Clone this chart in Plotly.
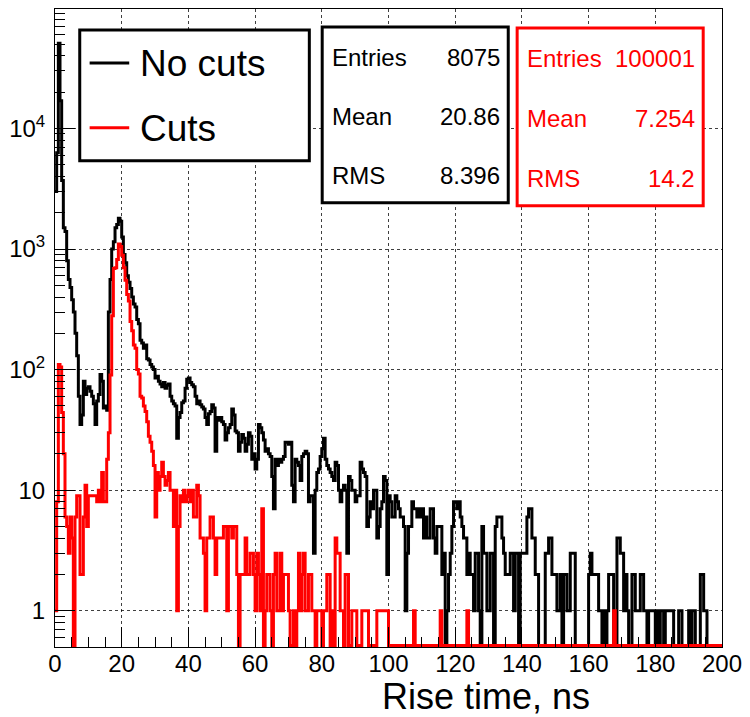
import numpy as np
import plotly.graph_objects as go

# ---------------- data (0.5 ns bins, 0-200 ns) ----------------
bin_width = 0.5
x_lo, x_hi = 0.0, 200.0

no_cuts = [
    3000, 6300, 51000, 17000, 3700, 1500, 1400, 800, 560, 480,
    380, 300, 200, 130, 60, 35, 42, 80, 62, 70,
    72, 66, 60, 52, 35, 55, 62, 91, 80, 48,
    50, 46, 300, 560, 1000, 1150, 1500, 1600, 1800, 1700,
    1260, 900, 770, 600, 530, 470, 400, 350, 330, 260,
    240, 175, 166, 150, 160, 123, 120, 110, 105, 100,
    85, 88, 80, 76, 72, 78, 70, 74, 76, 60,
    55, 52, 50, 27, 40, 44, 53, 55, 70, 83,
    85, 78, 75, 72, 60, 52, 55, 51, 49, 47,
    40, 35, 43, 45, 51, 48, 21, 40, 38, 40,
    37, 35, 26, 30, 33, 35, 47, 42, 31, 30,
    21, 25, 29, 27, 21, 24, 30, 28, 18, 20,
    15, 18, 35, 33, 30, 26, 21, 22, 20, 19,
    13, 7, 18, 16, 18, 17, 18, 19, 25, 25,
    24, 25, 11, 8, 18, 17, 16, 12, 19, 20,
    21, 20, 8, 9, 9, 3, 10, 14, 15, 19,
    22, 27, 18, 16, 15, 14, 13, 12, 17, 16,
    10, 8, 10, 11, 10, 3, 13, 12, 10, 10,
    8, 9, 9, 17, 15, 14, 13, 5, 6, 8,
    7, 10, 10, 4, 5, 7, 8, 13, 12, 2,
    9, 8, 6, 6, 9, 8, 7, 6, 6, 5,
    1, 3, 5, 5, 8, 7, 7, 6, 7, 6,
    7, 4, 6, 4, 4, 7, 7, 4, 3, 5,
    5, 5, 2, 3, 0, 1, 2, 3, 5, 8,
    8, 7, 8, 6, 5, 4, 4, 2, 3, 2,
    2, 1, 3, 3, 1, 0, 5, 3, 3, 1,
    1, 3, 3, 0, 5, 6, 6, 6, 4, 3,
    2, 2, 2, 3, 3, 1, 3, 3, 0, 3,
    3, 3, 3, 6, 7, 7, 4, 4, 2, 2,
    0, 0, 0, 0, 3, 3, 4, 4, 2, 2,
    2, 1, 1, 2, 0, 2, 2, 1, 1, 3,
    3, 3, 0, 0, 0, 0, 0, 0, 0, 0,
    2, 3, 2, 2, 2, 2, 1, 1, 0, 1,
    0, 1, 2, 2, 2, 0, 0, 4, 4, 3,
    3, 1, 2, 1, 0, 0, 2, 2, 1, 1,
    1, 2, 2, 1, 1, 0, 1, 1, 1, 1,
    0, 1, 0, 1, 1, 0, 1, 1, 1, 1,
    1, 0, 0, 0, 1, 1, 0, 0, 0, 0,
    1, 0, 1, 1, 0, 0, 0, 2, 2, 1,
    1, 0, 0, 0, 0, 0, 0, 0, 0, 0,
]

cuts = [
    1, 8, 110, 105, 44, 20, 6, 5, 3, 6,
    4, 0, 6, 9, 9, 2, 2, 6, 11, 5,
    9, 9, 9, 9, 9, 8, 10, 8, 14, 8,
    8, 18, 30, 90, 280, 690, 700, 820, 1100, 1050,
    890, 700, 550, 420, 370, 250, 210, 160, 150, 100,
    92, 60, 58, 50, 45, 37, 28, 25, 21, 16,
    6, 14, 10, 13, 17, 13, 11, 12, 14, 10,
    10, 5, 10, 1, 5, 9, 8, 10, 8, 9,
    10, 8, 10, 6, 6, 11, 9, 4, 4, 3,
    1, 4, 4, 6, 6, 4, 2, 4, 4, 4,
    4, 5, 5, 1, 5, 5, 4, 5, 5, 2,
    0, 2, 2, 2, 4, 2, 2, 3, 3, 2,
    1, 3, 2, 1, 7, 0, 1, 2, 2, 1,
    0, 2, 3, 1, 1, 3, 1, 2, 2, 2,
    1, 0, 0, 1, 0, 1, 3, 1, 2, 3,
    1, 1, 2, 2, 1, 1, 0, 1, 1, 1,
    0, 1, 1, 2, 2, 0, 1, 0, 4, 3,
    3, 1, 1, 0, 2, 2, 0, 0, 1, 1,
    1, 0, 0, 0, 1, 1, 1, 1, 0, 0,
    0, 0, 0, 1, 1, 1, 1, 1, 1, 1,
    0, 0, 0, 0, 0, 0, 0, 0, 0, 0,
    0, 0, 0, 0, 0, 1, 0, 0, 0, 0,
    0, 0, 0, 0, 0, 0, 0, 0, 0, 0,
    0, 1, 0, 0, 0, 0, 0, 0, 0, 0,
    0, 0, 0, 0, 0, 0, 0, 1, 0, 0,
    0, 0, 0, 0, 0, 0, 0, 0, 0, 0,
    0, 0, 0, 0, 0, 0, 0, 0, 0, 0,
    0, 0, 0, 0, 0, 0, 0, 0, 0, 0,
    0, 0, 0, 0, 0, 0, 0, 0, 0, 0,
    0, 0, 0, 0, 0, 0, 0, 0, 0, 0,
    0, 0, 0, 0, 0, 0, 0, 0, 0, 0,
    0, 0, 0, 0, 0, 0, 0, 0, 0, 0,
    0, 0, 0, 0, 0, 0, 0, 0, 0, 0,
    0, 0, 0, 0, 0, 1, 0, 0, 0, 0,
    0, 0, 0, 0, 0, 0, 0, 0, 0, 0,
    0, 0, 0, 0, 0, 0, 0, 0, 0, 0,
    0, 0, 0, 0, 0, 0, 0, 0, 0, 0,
    0, 0, 0, 0, 0, 0, 0, 0, 0, 0,
    0, 0, 0, 0, 0, 0, 0, 0, 0, 0,
    0, 0, 0, 0, 0, 0, 0, 0, 0, 0,
]

series_names = ["No cuts", "Cuts"]
series_colors = ["black", "#ff0000"]

x_tick_vals = list(range(0, 201, 20))
y_tick_vals = [1, 10, 100, 1000, 10000]
y_tick_text = ["1", "10", "10<sup>2</sup>", "10<sup>3</sup>", "10<sup>4</sup>"]
x_title = "Rise time, ns"

stats_labels = ["Entries", "Mean", "RMS"]
stats_box1 = ["8075", "20.86", "8.396"]      # black box
stats_box2 = ["100001", "7.254", "14.2"]     # red box

# ---------------- figure geometry ----------------
W, H = 750, 717
L, R, T, B = 55, 21, 8, 70
y_min, y_max_log = 0.5, 4.991
pw, ph = W - L - R, H - T - B


def px(xp):
    return (xp - L) / pw


def py(yp):
    return (H - B - yp) / ph


edges = np.arange(len(no_cuts)) * bin_width
floor = y_min * 1.03


def step_xy(vals):
    v = np.asarray(vals, dtype=float)
    v = np.where(v > 0, v, floor)
    xs = np.append(edges, x_hi)
    ys = np.append(v, v[-1])
    return xs, ys


fig = go.Figure()
for vals, name, col in [(no_cuts, series_names[0], series_colors[0]),
                        (cuts, series_names[1], series_colors[1])]:
    xs, ys = step_xy(vals)
    fig.add_trace(go.Scatter(x=xs, y=ys, mode="lines", line_shape="hv",
                             line=dict(color=col, width=3), name=name,
                             showlegend=False))

font_family = "Liberation Sans, Arial, Helvetica, sans-serif"

minor_y = [m * 10 ** d for d in range(-1, 5) for m in range(2, 10)]
minor_y = [v for v in minor_y if y_min <= v <= 10 ** y_max_log]

fig.update_layout(
    width=W, height=H,
    margin=dict(l=L, r=R, t=T, b=B),
    paper_bgcolor="white", plot_bgcolor="white",
    font=dict(family=font_family, color="black", size=24),
    xaxis=dict(range=[x_lo, x_hi], tickmode="array", tickvals=x_tick_vals,
               ticks="inside", ticklen=20, tickcolor="black", tickwidth=1,
               showline=True, mirror=True, linecolor="black", linewidth=1,
               showgrid=True, gridcolor="rgba(0,0,0,0.75)", griddash="dot", gridwidth=1,
               zeroline=False, tickfont=dict(size=24), ticklabelstandoff=-5,
               minor=dict(dtick=5, ticks="inside", ticklen=10, tickcolor="black",
                          showgrid=False)),
    yaxis=dict(type="log", range=[np.log10(y_min), y_max_log], tickmode="array",
               tickvals=y_tick_vals, ticktext=y_tick_text,
               ticks="inside", ticklen=20, tickcolor="black", tickwidth=1,
               showline=True, mirror=True, linecolor="black", linewidth=1,
               showgrid=True, gridcolor="rgba(0,0,0,0.75)", griddash="dot", gridwidth=1,
               zeroline=False, tickfont=dict(size=24), ticklabelstandoff=4,
               minor=dict(tickmode="array", tickvals=minor_y, ticks="inside",
                          ticklen=10, tickcolor="black", showgrid=False)),
)

shapes = []
ann = []

# Legend box
shapes.append(dict(type="rect", xref="paper", yref="paper",
                   x0=px(80), x1=px(312), y0=py(160), y1=py(29),
                   line=dict(color="black", width=3), fillcolor="white", layer="above"))
for yy, name, col in [(62, series_names[0], series_colors[0]),
                      (127, series_names[1], series_colors[1])]:
    shapes.append(dict(type="line", xref="paper", yref="paper",
                       x0=px(90), x1=px(130), y0=py(yy), y1=py(yy),
                       line=dict(color=col, width=3), layer="above"))
    ann.append(dict(xref="paper", yref="paper", x=px(139), y=py(yy + 1), text=name,
                    showarrow=False, xanchor="left", yanchor="middle",
                    font=dict(size=37, color="black")))

# Stats boxes
for (x0, x1, y0, y1, col, vals, rows) in [
        (325, 513, 26, 202, "black", stats_box1, [57, 116, 175]),
        (522, 710, 27, 205, "#ff0000", stats_box2, [58, 118, 178])]:
    shapes.append(dict(type="rect", xref="paper", yref="paper",
                       x0=px(x0), x1=px(x1), y0=py(y1), y1=py(y0),
                       line=dict(color=col, width=3), fillcolor="white", layer="above"))
    for lab, val, yy in zip(stats_labels, vals, rows):
        ann.append(dict(xref="paper", yref="paper", x=px(x0 + 8), y=py(yy), text=lab,
                        showarrow=False, xanchor="left", yanchor="middle",
                        font=dict(size=24, color=col)))
        ann.append(dict(xref="paper", yref="paper", x=px(x1 - 6), y=py(yy), text=val,
                        showarrow=False, xanchor="right", yanchor="middle",
                        font=dict(size=24, color=col)))

# x-axis title
ann.append(dict(xref="paper", yref="paper", x=px(598), y=py(697), text=x_title,
                showarrow=False, xanchor="right", yanchor="middle",
                font=dict(size=36, color="black")))

fig.update_layout(shapes=shapes, annotations=ann)
fig.write_html("out.html")
